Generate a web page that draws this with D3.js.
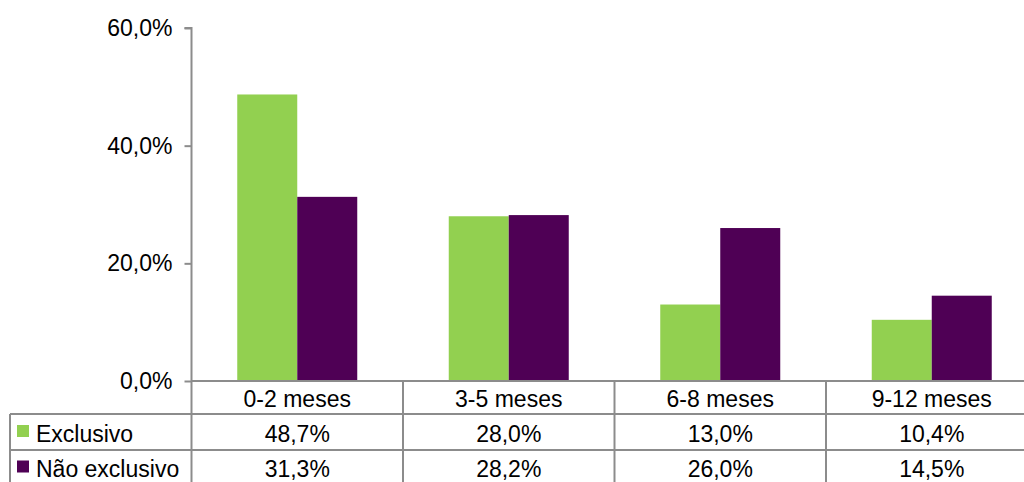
<!DOCTYPE html>
<html>
<head>
<meta charset="utf-8">
<script src="https://cdn.jsdelivr.net/npm/d3@7"></script>
<style>
  html, body { margin: 0; padding: 0; background: #fff; }
  svg { display: block; font-family: "Liberation Sans", Arial, sans-serif; }
</style>
</head>
<body>
<svg id="chart" width="1024" height="482"></svg>
<script>
// Age groups and the share of each feeding type
const categories = ["0-2 meses", "3-5 meses", "6-8 meses", "9-12 meses"];
const seriesNames = ["Exclusivo", "Não exclusivo"];
const exclusivo = [48.7, 28.0, 13.0, 10.4];
const naoExclusivo = [31.3, 28.2, 26.0, 14.5];
const yTicks = [0, 20, 40, 60];

const seriesValues = [exclusivo, naoExclusivo];
const colors = ["#92d050", "#4f0055"];
const fmt = v => v.toFixed(1).replace(".", ",") + "%";

const svg = d3.select("#chart");
const gridColor = "#8c8c8c";
const fontSize = 23;

const plotLeft = 191.5, plotRight = 1037.5;
const plotTop = 28, base = 381;
const tableLeft = 10;

// Table row boundaries and text baselines
const rowTop = [base, 414, 450];
const tableBottom = 486;
const baselines = [406.5, 441.5, 477];

const x0 = d3.scaleBand().domain(categories).range([plotLeft, plotRight]).paddingInner(0).paddingOuter(0);
const x1 = d3.scaleBand().domain(seriesNames).range([0, x0.bandwidth()]).paddingInner(0).paddingOuter(0.7625);
const y = d3.scaleLinear().domain([0, 60]).range([base, plotTop]);

// Bars
const groups = svg.append("g").selectAll("g")
  .data(categories)
  .join("g")
  .attr("transform", d => `translate(${x0(d)},0)`);

groups.selectAll("rect")
  .data((c, i) => seriesNames.map((s, j) => ({ s, v: seriesValues[j][i], j })))
  .join("rect")
  .attr("x", d => x1(d.s))
  .attr("width", x1.bandwidth())
  .attr("y", d => y(d.v))
  .attr("height", d => base - y(d.v))
  .attr("fill", d => colors[d.j]);

// Value axis
const yAxis = d3.axisLeft(y).tickValues(yTicks).tickSize(7).tickPadding(12).tickFormat(d => fmt(d));
const gy = svg.append("g").attr("transform", `translate(${plotLeft},0)`).call(yAxis);
gy.select(".domain").attr("stroke", gridColor).attr("stroke-width", 2).attr("d", `M-7,${plotTop}H0V${base}`);
gy.selectAll(".tick line").attr("stroke", gridColor).attr("stroke-width", 2);
gy.selectAll(".tick text")
  .attr("fill", "#000")
  .style("font-size", fontSize + "px")
  .style("font-family", "'Liberation Sans', Arial, sans-serif");

// Data table under the plot
const table = svg.append("g").attr("stroke", gridColor).attr("stroke-width", 2).attr("fill", "none");

table.append("line").attr("x1", plotLeft).attr("x2", plotRight).attr("y1", base).attr("y2", base);
[rowTop[1], rowTop[2]].forEach(yy =>
  table.append("line").attr("x1", tableLeft).attr("x2", plotRight).attr("y1", yy).attr("y2", yy));
table.append("line").attr("x1", tableLeft).attr("x2", tableLeft).attr("y1", rowTop[1]).attr("y2", tableBottom);
table.append("line").attr("x1", plotLeft).attr("x2", plotLeft).attr("y1", base).attr("y2", tableBottom);
categories.forEach(c => {
  const xr = x0(c) + x0.bandwidth();
  table.append("line").attr("x1", xr).attr("x2", xr).attr("y1", base).attr("y2", tableBottom);
});

const text = svg.append("g").style("font-size", fontSize + "px").attr("fill", "#000");

// Category labels
text.selectAll("text.cat")
  .data(categories)
  .join("text")
  .attr("class", "cat")
  .attr("x", d => x0(d) + x0.bandwidth() / 2)
  .attr("y", baselines[0])
  .attr("text-anchor", "middle")
  .text(d => d);

// Value rows with legend keys
seriesNames.forEach((s, j) => {
  const by = baselines[j + 1];
  svg.append("rect")
    .attr("x", 17).attr("y", by - 16.5)
    .attr("width", 12).attr("height", 12)
    .attr("fill", colors[j]);
  text.append("text")
    .attr("x", 36)
    .attr("y", by)
    .text(s);
  text.selectAll(null)
    .data(categories)
    .join("text")
    .attr("x", d => x0(d) + x0.bandwidth() / 2)
    .attr("y", by)
    .attr("text-anchor", "middle")
    .text((d, i) => fmt(seriesValues[j][i]));
});
</script>
</body>
</html>
